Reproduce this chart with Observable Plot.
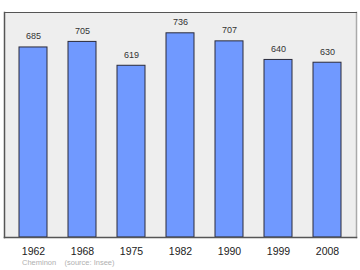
<!DOCTYPE html>
<html>
<head>
<meta charset="utf-8">
<script src="https://cdn.jsdelivr.net/npm/d3@7"></script>
<script src="https://cdn.jsdelivr.net/npm/@observablehq/plot@0.6"></script>
<style>
  html, body { margin: 0; padding: 0; background: #ffffff; }
  #chart { position: relative; width: 360px; height: 270px; }
  #caption { position: absolute; left: 22px; top: 258px; font: 7.5px "Liberation Sans", Arial, sans-serif; color: #b0b0b0; white-space: pre; }
</style>
</head>
<body>
<div id="chart"></div>
<script>
const years = ["1962", "1968", "1975", "1982", "1990", "1999", "2008"];
const population = [685, 705, 619, 736, 707, 640, 630];
const captionText = "Cheminon    (source: Insee)";

const data = years.map((y, i) => ({year: y, value: population[i]}));

const plot = Plot.plot({
  width: 360,
  height: 270,
  marginLeft: 4,
  marginRight: 4,
  marginTop: 12,
  marginBottom: 33,
  style: {fontFamily: "'Liberation Sans', Arial, sans-serif", background: "#ffffff"},
  x: {domain: years, paddingInner: 0.43, paddingOuter: 0.29, label: null},
  y: {domain: [0, 811], axis: null},
  marks: [
    Plot.frame({fill: "#eeeeee", stroke: "none"}),
    Plot.barY(data, {x: "year", y: "value", fill: "#7099ff", stroke: "#2a2a3a", strokeWidth: 1}),
    Plot.text(data, {x: "year", y: "value", text: d => String(d.value), dy: -11, fontSize: 9, fill: "#333"}),
    Plot.frame({anchor: "right", stroke: "#aaaaaa", strokeWidth: 1.5}),
    Plot.frame({anchor: "left", stroke: "#555555", strokeWidth: 1.5}),
    Plot.frame({anchor: "top", stroke: "#555555", strokeWidth: 1}),
    Plot.frame({anchor: "bottom", stroke: "#555555", strokeWidth: 1.5}),
    Plot.axisX({tickSize: 0, tickPadding: 10, fontSize: 10.5, label: null, fill: "#222"})
  ]
});
document.getElementById("chart").appendChild(plot);
const cap = document.createElement("div");
cap.id = "caption";
cap.textContent = captionText;
document.getElementById("chart").appendChild(cap);
</script>
</body>
</html>
